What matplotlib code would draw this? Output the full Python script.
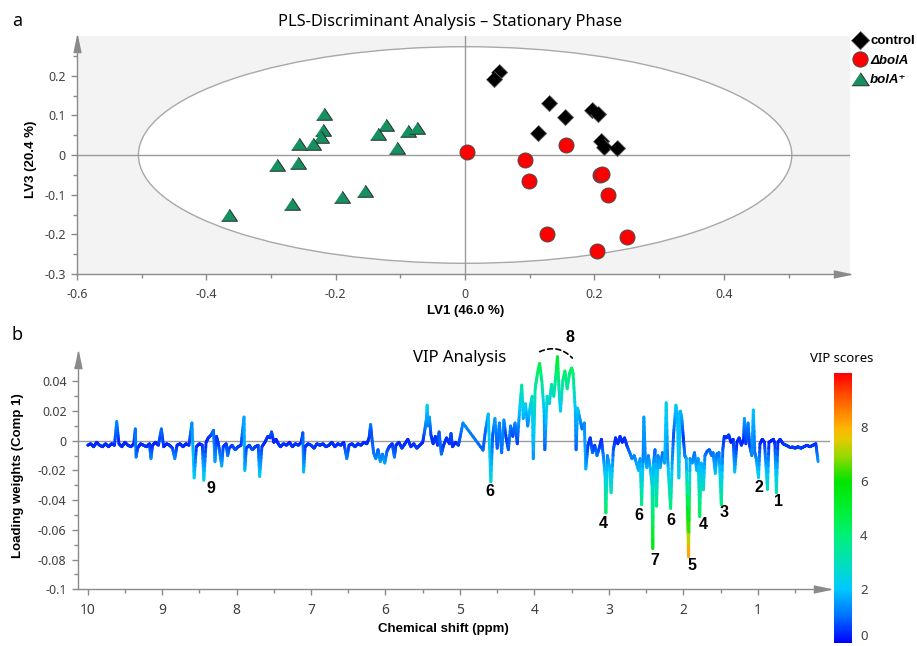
import numpy as np
import matplotlib
matplotlib.use('Agg')
import matplotlib.pyplot as plt
from matplotlib.collections import LineCollection
from matplotlib.colors import LinearSegmentedColormap, Normalize
from matplotlib.cm import ScalarMappable
from matplotlib.patches import Ellipse
from matplotlib.lines import Line2D

plt.rcParams['font.family'] = ['Noto Sans', 'DejaVu Sans']
plt.rcParams['axes.unicode_minus'] = False
BOLD_FAMILY = ['Liberation Sans', 'DejaVu Sans']

# ---------------- Panel a: PLS-DA scores ----------------
control_lv1 = [0.053, 0.045, 0.130, 0.154, 0.196, 0.205, 0.113, 0.210, 0.214, 0.235]
control_lv3 = [0.209, 0.191, 0.132, 0.095, 0.113, 0.103, 0.056, 0.035, 0.019, 0.017]

dbola_lv1 = [0.003, 0.156, 0.093, 0.098, 0.208, 0.212, 0.221, 0.126, 0.251, 0.204]
dbola_lv3 = [0.007, 0.024, -0.013, -0.065, -0.050, -0.048, -0.101, -0.198, -0.207, -0.242]

bolap_lv1 = [-0.218, -0.220, -0.223, -0.257, -0.235, -0.123, -0.135, -0.089,
             -0.075, -0.106, -0.291, -0.259, -0.191, -0.155, -0.267, -0.365]
bolap_lv3 = [0.104, 0.063, 0.046, 0.027, 0.027, 0.076, 0.053, 0.061,
             0.069, 0.018, -0.024, -0.019, -0.106, -0.091, -0.123, -0.152]

ellipse_half_lv1 = 0.505
ellipse_half_lv3 = 0.273

top_xticks = [-0.6, -0.4, -0.2, 0, 0.2, 0.4]
top_xticklabels = ['-0.6', '-0.4', '-0.2', '0', '0.2', '0.4']
top_yticks = [-0.3, -0.2, -0.1, 0, 0.1, 0.2]
top_yticklabels = ['-0.3', '-0.2', '-0.1', '0', '0.1', '0.2']

# ---------------- Panel b: loading weights coloured by VIP ----------------
ppm = [
    10.00, 9.96, 9.92, 9.88, 9.84, 9.80, 9.76, 9.72, 9.68, 9.64,
    9.61, 9.58, 9.54, 9.50, 9.46, 9.42, 9.38, 9.36, 9.35, 9.33,
    9.29, 9.25, 9.21, 9.17, 9.15, 9.13, 9.09, 9.05, 9.01, 8.98,
    8.94, 8.90, 8.86, 8.83, 8.80, 8.76, 8.72, 8.68, 8.64, 8.60,
    8.57, 8.54, 8.50, 8.46, 8.44, 8.41, 8.38, 8.34, 8.31, 8.29,
    8.27, 8.24, 8.20, 8.18, 8.14, 8.12, 8.10, 8.06, 8.02, 7.98,
    7.94, 7.90, 7.89, 7.87, 7.83, 7.79, 7.75, 7.71, 7.69, 7.66,
    7.62, 7.58, 7.55, 7.53, 7.50, 7.47, 7.44, 7.41, 7.37, 7.33,
    7.29, 7.25, 7.21, 7.17, 7.13, 7.11, 7.10, 7.08, 7.04, 7.00,
    6.96, 6.92, 6.88, 6.84, 6.80, 6.76, 6.72, 6.68, 6.64, 6.60,
    6.56, 6.52, 6.49, 6.45, 6.41, 6.37, 6.33, 6.29, 6.25, 6.22,
    6.20, 6.19, 6.16, 6.13, 6.10, 6.07, 6.04, 6.01, 5.98, 5.95,
    5.91, 5.88, 5.86, 5.82, 5.78, 5.74, 5.70, 5.66, 5.62, 5.58,
    5.54, 5.50, 5.47, 5.45, 5.44, 5.43, 5.41, 5.39, 5.36, 5.33,
    5.30, 5.28, 5.25, 5.22, 5.18, 5.14, 5.12, 5.10, 5.06, 5.02,
    4.96, 4.69, 4.66, 4.62, 4.585, 4.56, 4.53, 4.50, 4.47, 4.44,
    4.41, 4.38, 4.35, 4.32, 4.29, 4.26, 4.23, 4.20, 4.17, 4.15,
    4.12, 4.09, 4.06, 4.03, 4.015, 3.99, 3.96, 3.93, 3.90, 3.87,
    3.86, 3.83, 3.80, 3.77, 3.74, 3.71, 3.69, 3.67, 3.65, 3.62,
    3.59, 3.56, 3.53, 3.50, 3.48, 3.45, 3.44, 3.42, 3.39, 3.36,
    3.33, 3.31, 3.28, 3.25, 3.22, 3.19, 3.16, 3.13, 3.10, 3.07,
    3.05, 3.04, 3.02, 2.99, 2.97, 2.94, 2.91, 2.88, 2.85, 2.82,
    2.79, 2.76, 2.72, 2.69, 2.66, 2.63, 2.60, 2.58, 2.56, 2.54,
    2.53, 2.51, 2.49, 2.47, 2.44, 2.42, 2.41, 2.40, 2.38, 2.36,
    2.34, 2.31, 2.28, 2.25, 2.23, 2.21, 2.19, 2.17, 2.15, 2.13,
    2.10, 2.08, 2.06, 2.04, 2.02, 2.00, 1.98, 1.96, 1.93, 1.91,
    1.88, 1.85, 1.82, 1.80, 1.78, 1.76, 1.73, 1.71, 1.68, 1.65,
    1.62, 1.60, 1.57, 1.55, 1.52, 1.49, 1.47, 1.45, 1.42, 1.39,
    1.36, 1.33, 1.31, 1.28, 1.25, 1.22, 1.19, 1.18, 1.16, 1.13,
    1.11, 1.08, 1.06, 1.04, 1.02, 0.99, 0.97, 0.94, 0.91, 0.87,
    0.85, 0.82, 0.79, 0.77, 0.75, 0.73, 0.70, 0.66, 0.62, 0.58,
    0.54, 0.50, 0.46, 0.42, 0.38, 0.34, 0.30, 0.26, 0.22, 0.19,
]
loading = [
    -0.003, -0.002, -0.004, -0.001, -0.003, -0.004, -0.002, -0.004, -0.002, -0.003,
    0.013, -0.002, -0.004, -0.001, -0.003, -0.004, -0.002, 0.008, -0.011, -0.005,
    -0.002, -0.003, -0.004, -0.002, -0.012, -0.003, -0.001, -0.003, 0.008, -0.004,
    -0.002, -0.003, -0.005, -0.012, -0.003, -0.002, -0.004, -0.002, -0.003, 0.012,
    -0.025, -0.004, -0.002, -0.003, -0.0265, -0.001, 0.002, 0.004, 0.007, -0.014,
    0.003, -0.003, -0.017, -0.004, -0.002, -0.010, -0.005, -0.003, -0.006, -0.004,
    -0.003, 0.016, -0.020, -0.005, -0.003, -0.006, -0.004, -0.003, -0.024, -0.004,
    -0.001, 0.003, 0.002, 0.006, -0.001, 0.001, -0.002, -0.004, -0.002, -0.003,
    -0.001, -0.004, -0.002, -0.003, -0.001, 0.0054, -0.021, -0.004, -0.002, -0.003,
    -0.005, -0.002, -0.003, -0.002, -0.004, -0.003, -0.001, -0.004, -0.002, -0.003,
    -0.001, -0.012, -0.003, -0.002, -0.004, -0.002, -0.003, -0.001, -0.002, 0.002,
    0.011, 0.005, -0.008, -0.012, -0.006, -0.014, -0.009, -0.015, -0.007, -0.004,
    -0.002, -0.011, -0.003, -0.001, -0.005, -0.002, 0.001, -0.004, -0.002, -0.005,
    -0.003, -0.001, 0.008, 0.015, 0.024, 0.010, 0.016, 0.004, -0.002, 0.003,
    -0.003, 0.006, -0.009, -0.003, 0.002, -0.002, 0.005, -0.004, -0.001, -0.003,
    0.012, -0.0063, 0.006, 0.018, -0.0276, 0.004, 0.015, -0.005, 0.012, -0.008,
    0.014, 0.002, -0.006, 0.010, 0.003, 0.012, -0.002, 0.020, 0.0375, 0.015,
    0.025, 0.010, 0.022, 0.030, -0.012, 0.035, 0.045, 0.052, 0.040, 0.020,
    -0.006, 0.030, 0.025, 0.038, 0.030, 0.045, 0.0566, 0.035, 0.020, 0.040,
    0.047, 0.035, 0.045, 0.049, 0.045, 0.020, -0.006, 0.022, 0.015, 0.008,
    0.012, -0.019, -0.003, 0.002, -0.008, -0.003, -0.010, -0.005, 0.001, -0.012,
    -0.024, -0.0485, -0.010, -0.018, -0.035, -0.006, 0.002, -0.002, 0.003, -0.001,
    0.002, -0.003, -0.008, -0.012, -0.010, -0.015, -0.020, -0.012, -0.043, -0.010,
    0.016, -0.012, -0.018, -0.010, -0.020, -0.030, -0.0725, -0.015, -0.006, -0.044,
    -0.010, -0.018, -0.008, -0.015, 0.0256, -0.012, -0.030, -0.0455, -0.015, 0.005,
    0.024, 0.018, -0.025, 0.020, 0.015, 0.002, -0.010, -0.012, -0.078, -0.012,
    -0.015, -0.008, -0.020, -0.012, -0.051, -0.015, -0.033, -0.010, -0.007, -0.006,
    -0.010, -0.008, -0.022, -0.009, -0.008, -0.043, -0.006, 0.003, 0.002, 0.004,
    -0.001, 0.001, -0.021, -0.001, 0.002, -0.003, 0.001, 0.015, -0.002, 0.012,
    -0.003, -0.010, 0.0207, -0.008, -0.012, -0.0247, -0.002, 0.001, -0.001, -0.0327,
    -0.001, 0.000, 0.001, -0.002, -0.035, -0.001, 0.001, -0.002, -0.003, -0.004,
    -0.004, -0.005, -0.004, -0.005, -0.004, -0.003, -0.004, -0.003, -0.002, -0.014,
]
vip = [
    0.4, 0.3, 0.5, 0.3, 0.4, 0.5, 0.3, 0.5, 0.3, 0.4,
    1.4, 0.3, 0.5, 0.3, 0.4, 0.5, 0.3, 1.0, 1.3, 0.6,
    0.3, 0.4, 0.5, 0.3, 1.4, 0.4, 0.3, 0.4, 1.0, 0.5,
    0.3, 0.4, 0.6, 1.4, 0.4, 0.3, 0.5, 0.3, 0.4, 1.3,
    2.3, 0.5, 0.3, 0.4, 2.4, 0.3, 0.4, 0.6, 0.9, 1.6,
    0.5, 0.5, 1.8, 0.6, 0.4, 1.2, 0.7, 0.5, 0.8, 0.6,
    0.5, 1.6, 2.0, 0.7, 0.5, 0.8, 0.6, 0.5, 2.2, 0.6,
    0.3, 0.5, 0.4, 0.8, 0.3, 0.3, 0.4, 0.5, 0.4, 0.5,
    0.3, 0.5, 0.4, 0.5, 0.3, 0.7, 2.0, 0.5, 0.4, 0.5,
    0.6, 0.4, 0.5, 0.4, 0.5, 0.5, 0.3, 0.5, 0.4, 0.5,
    0.3, 1.3, 0.5, 0.4, 0.5, 0.4, 0.5, 0.3, 0.4, 0.4,
    1.2, 0.7, 1.0, 1.4, 0.8, 1.6, 1.1, 1.7, 0.9, 0.6,
    0.4, 1.2, 0.5, 0.3, 0.6, 0.4, 0.3, 0.5, 0.4, 0.6,
    0.5, 0.3, 1.0, 1.6, 2.3, 1.2, 1.7, 0.6, 0.4, 0.5,
    0.5, 0.8, 1.1, 0.5, 0.4, 0.4, 0.7, 0.5, 0.3, 0.5,
    1.3, 0.9, 0.9, 1.8, 2.6, 0.7, 1.6, 0.8, 1.3, 1.0,
    1.5, 0.5, 0.8, 1.2, 0.6, 1.3, 0.5, 1.9, 3.4, 1.6,
    2.3, 1.2, 2.1, 2.8, 1.4, 3.2, 4.0, 4.7, 3.6, 1.9,
    0.8, 2.8, 2.3, 3.4, 2.8, 4.0, 5.3, 3.2, 1.9, 3.6,
    4.2, 3.2, 4.0, 4.4, 4.0, 1.9, 0.8, 2.1, 1.6, 1.0,
    1.3, 1.9, 0.5, 0.4, 1.0, 0.5, 1.2, 0.7, 0.3, 1.3,
    2.2, 4.4, 1.2, 1.8, 3.2, 0.8, 0.4, 0.4, 0.5, 0.3,
    0.4, 0.5, 1.0, 1.3, 1.2, 1.6, 1.9, 1.3, 3.9, 1.2,
    1.6, 1.3, 1.8, 1.2, 1.9, 2.8, 5.8, 1.6, 0.8, 4.0,
    1.2, 1.8, 1.0, 1.6, 2.4, 1.3, 2.8, 4.1, 1.6, 0.7,
    2.2, 1.8, 2.3, 1.9, 1.6, 0.4, 1.2, 1.3, 8.6, 1.3,
    1.6, 1.0, 1.9, 1.3, 4.6, 1.6, 3.0, 1.2, 0.9, 0.8,
    1.2, 1.0, 2.1, 1.1, 1.0, 3.9, 0.8, 0.5, 0.4, 0.6,
    0.3, 0.3, 2.0, 0.3, 0.4, 0.5, 0.3, 1.6, 0.4, 1.3,
    0.5, 1.2, 2.0, 1.0, 1.3, 2.4, 0.4, 0.3, 0.3, 3.0,
    0.3, 0.2, 0.3, 0.4, 3.2, 0.3, 0.3, 0.4, 0.5, 0.5,
    0.5, 0.6, 0.5, 0.6, 0.5, 0.5, 0.5, 0.5, 0.4, 1.5,
]

bot_xticks = [10, 9, 8, 7, 6, 5, 4, 3, 2, 1]
bot_yticks = [-0.1, -0.08, -0.06, -0.04, -0.02, 0, 0.02, 0.04]
bot_yticklabels = ['-0.1', '-0.08', '-0.06', '-0.04', '-0.02', '0', '0.02', '0.04']

peak_labels = ['9', '6', '8', '4', '6', '6', '7', '5', '4', '3', '2', '1']
peak_ppm = [8.35, 4.60, 3.52, 3.07, 2.60, 2.17, 2.385, 1.88, 1.737, 1.455, 0.99, 0.72]
peak_val = [-0.0319, -0.0343, 0.0698, -0.0554, -0.0505, -0.0534, -0.0803, -0.0842,
            -0.0563, -0.0485, -0.0316, -0.0411]

cbar_ticks = [0, 2, 4, 6, 8]

# ---------------- figure ----------------
W, H = 917, 646
fig = plt.figure(figsize=(W / 100, H / 100), dpi=100)


def rect(l, t, r, b):
    return [l / W, 1 - b / H, (r - l) / W, (b - t) / H]


GRAY = '#8a8a8a'
LABC = '#404040'


def style_axes(ax):
    for s in ('top', 'right'):
        ax.spines[s].set_visible(False)
    for s in ('left', 'bottom'):
        ax.spines[s].set_color(GRAY)
        ax.spines[s].set_linewidth(1.0)
    ax.tick_params(which='major', direction='out', length=4, width=1, color=GRAY,
                   labelcolor=LABC, labelsize=9, pad=4)
    ax.tick_params(which='minor', direction='out', length=3, width=1, color=GRAY)
    # arrow heads at the spine ends
    ax.plot(1, 0, marker=[(-2, 0.42), (0, 0), (-2, -0.42)], ms=24, color=GRAY,
            transform=ax.transAxes, clip_on=False, zorder=6)
    ax.plot(0, 1, marker=[(0.42, -2), (0, 0), (-0.42, -2)], ms=24, color=GRAY,
            transform=ax.transAxes, clip_on=False, zorder=6)


# Panel a
ax1 = fig.add_axes(rect(77, 36, 850, 274))
ax1.set_xlim(-0.6, 0.595)
ax1.set_ylim(-0.3, 0.30)
ax1.set_facecolor('#f3f3f3')
ax1.add_patch(Ellipse((0, 0), 2 * ellipse_half_lv1, 2 * ellipse_half_lv3,
                      facecolor='white', edgecolor='#a8a8a8', lw=1.0, zorder=1))
ax1.axhline(0, color='#9a9a9a', lw=1.0, zorder=2)
ax1.axvline(0, color='#9a9a9a', lw=1.0, zorder=2)
style_axes(ax1)
ax1.set_xticks(top_xticks)
ax1.set_xticklabels(top_xticklabels)
ax1.set_xticks([-0.5, -0.3, -0.1, 0.1, 0.3, 0.5], minor=True)
ax1.set_yticks(top_yticks)
ax1.set_yticklabels(top_yticklabels)
ax1.set_yticks([-0.25, -0.15, -0.05, 0.05, 0.15, 0.25], minor=True)
ax1.tick_params(axis='x', which='major', pad=6)

tri = [(-1, -0.72), (1, -0.72), (0, 0.78)]
dia = [(0, 1), (1, 0), (0, -1), (-1, 0)]
ax1.plot(bolap_lv1, bolap_lv3, ls='none', marker=tri, ms=11.5, mfc='#169060',
         mec='#2a2a2a', mew=0.7, zorder=4)
ax1.plot(dbola_lv1, dbola_lv3, ls='none', marker='o', ms=10.8, mfc='#ff0000',
         mec='#4a4a4a', mew=0.7, zorder=4)
ax1.plot(control_lv1, control_lv3, ls='none', marker=dia, ms=11.5, mfc='#000000',
         mec='#555555', mew=0.7, zorder=5)

handles = [
    Line2D([], [], ls='none', marker=dia, ms=13, mfc='black', mec='#555555', mew=0.7),
    Line2D([], [], ls='none', marker='o', ms=11, mfc='#ff0000', mec='#4a4a4a', mew=0.7),
    Line2D([], [], ls='none', marker=tri, ms=12.5, mfc='#169060', mec='#2a2a2a', mew=0.7),
]
leg = fig.legend(handles, ['control', 'ΔbolA', 'bolA⁺'], loc='upper left',
                 bbox_to_anchor=(853 / W, 1 - 35 / H), frameon=False, borderpad=0,
                 borderaxespad=0, handlelength=1.0, handletextpad=0.3,
                 labelspacing=0.55,
                 prop={'weight': 'bold', 'size': 9.5, 'family': BOLD_FAMILY})
for t in leg.get_texts()[1:]:
    t.set_fontstyle('italic')

fig.text(17 / W, 1 - 21 / H, 'a', fontsize=13, ha='center', va='center')
fig.text(450 / W, 1 - 22 / H, 'PLS-Discriminant Analysis – Stationary Phase',
         fontsize=11.8, ha='center', va='center')
fig.text(466 / W, 1 - 311 / H, 'LV1 (46.0 %)', fontsize=9.5, weight='bold',
         family=BOLD_FAMILY, ha='center', va='center')
fig.text(31 / W, 1 - 159 / H, 'LV3 (20.4 %)', fontsize=9.5, weight='bold',
         family=BOLD_FAMILY, ha='center', va='center', rotation=90)

# Panel b
cmap = LinearSegmentedColormap.from_list('vip', [
    (0.00, '#0000ff'), (0.10, '#0070ff'), (0.20, '#00c8ff'), (0.30, '#00e0b8'),
    (0.40, '#00f078'), (0.50, '#00f030'), (0.60, '#00e400'), (0.70, '#a0d800'),
    (0.76, '#e8c800'), (0.80, '#ffb400'), (0.90, '#ff6000'), (1.00, '#ff0000')])
norm = Normalize(0, 10)

ax2 = fig.add_axes(rect(77.7, 351.7, 830, 589.3))
ax2.set_xlim(10.134, 0.03)
ax2.set_ylim(-0.1, 0.06)
ax2.axhline(0, color='#9a9a9a', lw=1.0, zorder=1)
style_axes(ax2)
ax2.set_xticks(bot_xticks)
ax2.set_xticklabels([str(v) for v in bot_xticks])
ax2.set_xticks([9.5, 8.5, 7.5, 6.5, 5.5, 4.5, 3.5, 2.5, 1.5, 0.5], minor=True)
ax2.set_yticks(bot_yticks)
ax2.set_yticklabels(bot_yticklabels)
ax2.set_yticks([-0.09, -0.07, -0.05, -0.03, -0.01, 0.01, 0.03, 0.05], minor=True)
ax2.tick_params(axis='x', which='major', labelsize=10, pad=6)

# spectrum line, colour graded along each segment by VIP score
pts = np.column_stack([ppm, loading])
vv = np.asarray(vip, dtype=float)
nsub = 8
segs, cols = [], []
for i in range(len(pts) - 1):
    p0, p1 = pts[i], pts[i + 1]
    for k in range(nsub):
        t0, t1 = k / nsub, (k + 1) / nsub
        segs.append([p0 + (p1 - p0) * t0, p0 + (p1 - p0) * t1])
        cols.append(vv[i] + (vv[i + 1] - vv[i]) * (t0 + t1) / 2)
lc = LineCollection(segs, cmap=cmap, norm=norm, linewidths=2.1, capstyle='round',
                    zorder=3)
lc.set_array(np.asarray(cols))
ax2.add_collection(lc)

for lab, x, y in zip(peak_labels, peak_ppm, peak_val):
    ax2.text(x, y, lab, fontsize=11.5, weight='bold', ha='center', va='center',
             family=BOLD_FAMILY, clip_on=False, zorder=7)
ax2.annotate('', xy=(3.49, 0.0557), xytext=(3.93, 0.0600),
             arrowprops=dict(arrowstyle='-', ls=(0, (3, 2)), lw=1.2, color='black',
                             connectionstyle='arc3,rad=-0.35', shrinkA=0, shrinkB=0),
             annotation_clip=False)

fig.text(17 / W, 1 - 335 / H, 'b', fontsize=13, ha='center', va='center')
fig.text(460 / W, 1 - 358 / H, 'VIP Analysis', fontsize=12, ha='center', va='center')
fig.text(443 / W, 1 - 629 / H, 'Chemical shift (ppm)', fontsize=9.5, weight='bold',
         family=BOLD_FAMILY, ha='center', va='center')
fig.text(18 / W, 1 - 476 / H, 'Loading weights (Comp 1)', fontsize=9.5,
         weight='bold', family=BOLD_FAMILY, ha='center', va='center', rotation=90)

cax = fig.add_axes(rect(834.3, 373.3, 851.7, 643.3))
cb = fig.colorbar(ScalarMappable(norm=norm, cmap=cmap), cax=cax)
cb.outline.set_visible(False)
cb.set_ticks(cbar_ticks)
cb.set_ticklabels([str(t) for t in cbar_ticks])
cax.tick_params(length=0, labelsize=9.5, labelcolor=LABC, pad=6)
cax.get_yticklabels()[0].set_va('bottom')
fig.text(842 / W, 1 - 358 / H, 'VIP scores', fontsize=9.5, ha='center', va='center')

fig.savefig('out.png', dpi=100)
